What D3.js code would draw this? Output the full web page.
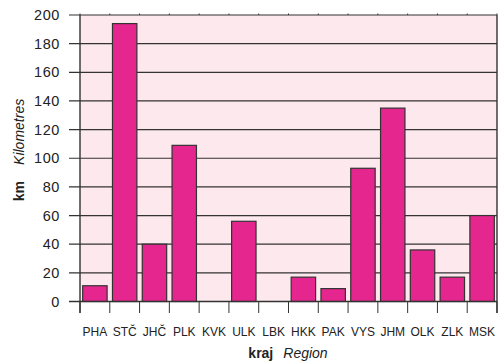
<!DOCTYPE html>
<html><head><meta charset="utf-8">
<script src="https://cdn.jsdelivr.net/npm/d3@7"></script>
<style>body{margin:0;background:#fff}text{font-family:"Liberation Sans",Arial,sans-serif;fill:#222}</style>
</head><body>
<svg id="c" width="499" height="362"></svg>
<script>
const categories = ["PHA","STČ","JHČ","PLK","KVK","ULK","LBK","HKK","PAK","VYS","JHM","OLK","ZLK","MSK"];
const values = [11,194,40,109,0,56,0,17,9,93,135,36,17,60];
const yTicks = [0,20,40,60,80,100,120,140,160,180,200];

const svg = d3.select("#c");
const L = 80, R = 497, T = 15, B = 301.5;
const x = d3.scaleBand().domain(categories).range([L, R]).paddingInner(0.18).paddingOuter(0.09);
const xb = d3.scaleLinear().domain([0, categories.length]).range([L, R]);
const y = d3.scaleLinear().domain([0, 200]).range([B, T]);
const dark = "#333";

svg.append("rect").attr("x", L).attr("y", T).attr("width", R - L).attr("height", B - T).attr("fill", "#fde8ed");

svg.append("g").selectAll("line").data(yTicks).join("line")
  .attr("x1", 69).attr("x2", R).attr("y1", d => y(d)).attr("y2", d => y(d))
  .attr("stroke", dark).attr("stroke-width", 1.2);

svg.append("g").selectAll("text").data(yTicks).join("text")
  .attr("x", 60).attr("y", d => y(d) + 5).attr("text-anchor", "end")
  .attr("font-size", 14.5).attr("letter-spacing", 0.6).text(d => d);

const bounds = d3.range(categories.length + 1);
svg.append("g").selectAll("line").data(bounds).join("line")
  .attr("x1", d => xb(d)).attr("x2", d => xb(d)).attr("y1", B).attr("y2", 313)
  .attr("stroke", dark).attr("stroke-width", 1);
svg.append("g").selectAll("line").data(bounds).join("line")
  .attr("x1", d => xb(d)).attr("x2", d => xb(d)).attr("y1", T - 1.5).attr("y2", T)
  .attr("stroke", dark).attr("stroke-width", 1);

svg.append("g").selectAll("rect").data(values).join("rect")
  .attr("x", (d, i) => x(categories[i])).attr("width", x.bandwidth())
  .attr("y", d => y(d)).attr("height", d => B - y(d))
  .attr("fill", "#e6268f").attr("stroke", dark).attr("stroke-width", 1.2);

svg.append("line").attr("x1", L).attr("x2", L).attr("y1", T).attr("y2", 313).attr("stroke", dark).attr("stroke-width", 1.4);
svg.append("line").attr("x1", R).attr("x2", R).attr("y1", T).attr("y2", 313).attr("stroke", dark).attr("stroke-width", 1.4);
svg.append("line").attr("x1", 69).attr("x2", R).attr("y1", B).attr("y2", B).attr("stroke", dark).attr("stroke-width", 1.4);

svg.append("g").selectAll("text").data(categories).join("text")
  .attr("x", d => x(d) + x.bandwidth() / 2).attr("y", 336).attr("text-anchor", "middle")
  .attr("font-size", 12).text(d => d);

const xt = svg.append("text").attr("x", 288).attr("y", 358).attr("text-anchor", "middle").attr("font-size", 14);
xt.append("tspan").attr("font-weight", "bold").text("kraj");
xt.append("tspan").attr("dx", 10).attr("font-style", "italic").text("Region");

const yt = svg.append("text").attr("transform", "translate(24,150) rotate(-90)").attr("text-anchor", "middle").attr("font-size", 14);
yt.append("tspan").attr("font-weight", "bold").text("km");
yt.append("tspan").attr("dx", 16).attr("font-style", "italic").text("Kilometres");
</script>
</body></html>
